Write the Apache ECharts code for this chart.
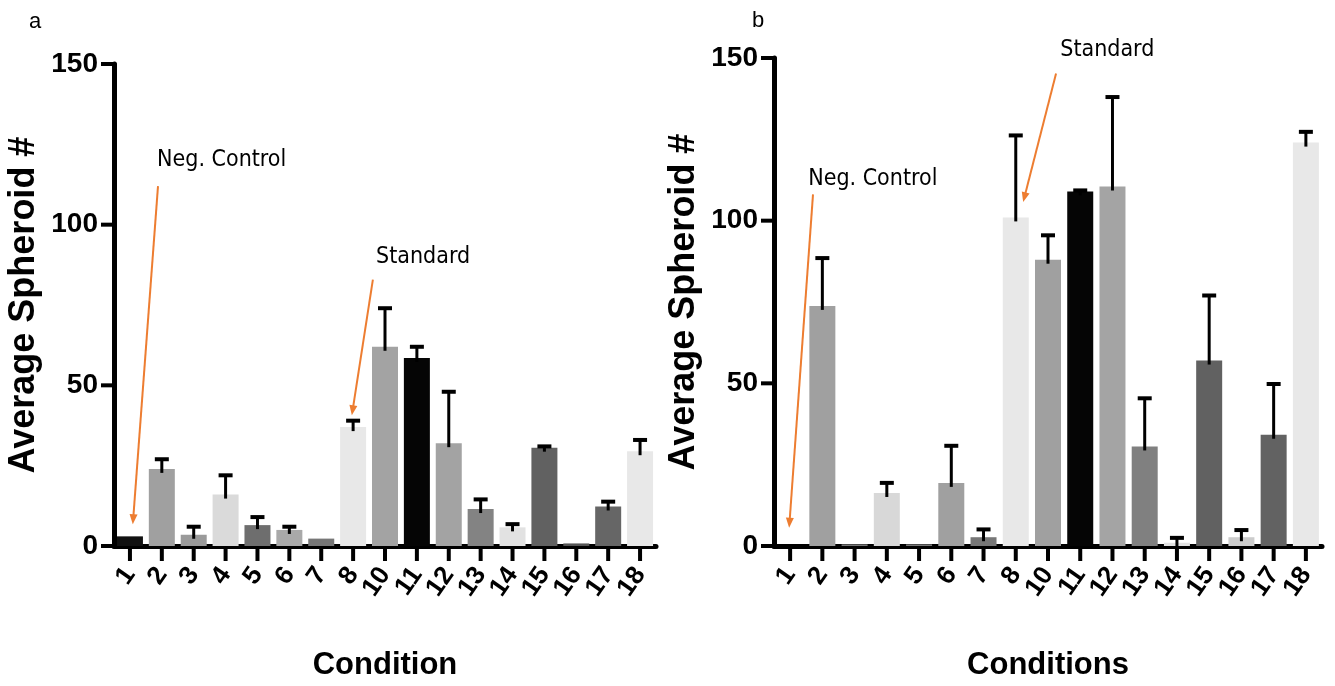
<!DOCTYPE html>
<html><head><meta charset="utf-8">
<script src="https://cdn.jsdelivr.net/npm/echarts@6/dist/echarts.min.js"></script>
<style>html,body{margin:0;padding:0;background:#fff}#c{width:1335px;height:686px}</style>
</head><body><div id="c"></div>
<script>
// ---- data ----
const categories = ['1','2','3','4','5','6','7','8','10','11','12','13','14','15','16','17','18'];
const meanA = [3, 24, 3.5, 16, 6.5, 5, 2.3, 37, 62, 58.5, 32, 11.5, 5.8, 30.6, 0.8, 12.3, 29.5];
const errA  = [0, 3, 2.5, 6, 2.5, 1, 0, 2, 12, 3.5, 16, 3, 1, 0.4, 0, 1.5, 3.5];
const meanB = [0, 73.8, 0.5, 16.3, 0.5, 19.4, 2.7, 101, 88, 109, 110.5, 30.6, 1, 57, 2.7, 34.2, 124];
const errB  = [0, 14.7, 0, 3.1, 0, 11.4, 2.4, 25.2, 7.5, 0.3, 27.5, 14.8, 1.5, 20, 2.2, 15.6, 3.3];
const colorsA = ['#111111','#a0a0a0','#9a9a9a','#dadada','#6e6e6e','#a9a9a9','#777777','#e8e8e8','#a3a3a3','#050505','#a3a3a3','#838383','#e2e2e2','#616161','#555555','#666666','#e8e8e8'];
const colorsB = ['#111111','#a0a0a0','#777777','#d8d8d8','#777777','#a0a0a0','#777777','#e8e8e8','#a0a0a0','#050505','#a4a4a4','#808080','#e2e2e2','#616161','#cccccc','#626262','#e8e8e8'];
const yTicks = [0, 50, 100, 150];
const yMin = 0, yMax = 150, yInterval = 50;
// annotations: [categoryIndex (fractional), value]
const annText   = ['Neg. Control', 'Standard', 'Neg. Control', 'Standard'];
const annGrid   = [0, 0, 1, 1];
const annTextAt = [[0.85, 120], [7.72, 90], [0.56, 112.7], [8.38, 152.5]];
const annFrom   = [[0.88, 112], [7.62, 82.9], [0.71, 108.1], [8.25, 145.2]];
const annTo     = [[0.09, 6.8], [6.96, 40.7], [-0.03, 5.6], [7.23, 105.7]];

const NARROW = "'DejaVu Sans Condensed','Liberation Sans',sans-serif";
const SANS = "'Liberation Sans',Arial,sans-serif";

const chart = echarts.init(document.getElementById('c'));

function xAxisCfg(gi, name){
  return {
    type:'category', gridIndex:gi, data:categories, boundaryGap:true,
    name:name, nameLocation:'middle', nameGap:104,
    nameTextStyle:{fontFamily:SANS, fontWeight:'bold', fontSize:31, color:'#000'},
    axisLine:{show:true, lineStyle:{color:'#000', width:5}},
    axisTick:{show:false},
    axisLabel:{show:true, rotate:55, margin:24, fontFamily:SANS, fontWeight:'bold', fontSize:26, color:'#000', interval:0}
  };
}
function yAxisCfg(gi){
  return {
    type:'value', gridIndex:gi, min:yMin, max:yMax, interval:yInterval,
    name:'Average Spheroid #', nameLocation:'middle', nameGap:72, nameRotate:90,
    nameTextStyle:{fontFamily:SANS, fontWeight:'bold', fontSize:36, color:'#000'},
    axisLine:{show:true, lineStyle:{color:'#000', width:5}},
    axisTick:{show:false},
    axisLabel:{show:true, margin:16, fontFamily:SANS, fontWeight:'bold', fontSize:28, color:'#000'},
    splitLine:{show:false}
  };
}
function barData(means, colors){
  return means.map((v,i)=>({value:v, itemStyle:{color:colors[i]}}));
}
function errData(means, errs){
  return means.map((v,i)=>[i, v, errs[i]]);
}
function renderErr(params, api){
  const i = api.value(0), m = api.value(1), e = api.value(2);
  if (!(e > 0)) return null;
  const p0 = api.coord([i, m]);
  const p1 = api.coord([i, m + e]);
  return {type:'group', children:[
    {type:'line', shape:{x1:p0[0], y1:p0[1] + 4, x2:p1[0], y2:p1[1]}, style:{stroke:'#000', lineWidth:3}},
    {type:'line', shape:{x1:p1[0] - 7, y1:p1[1], x2:p1[0] + 7, y2:p1[1]}, style:{stroke:'#000', lineWidth:4}}
  ]};
}
// outward tick marks, drawn through the axes' own scales
function renderXTick(params, api){
  const p = api.coord([api.value(0), 0]);
  return {type:'line', shape:{x1:p[0], y1:p[1], x2:p[0], y2:p[1] + 15}, style:{stroke:'#000', lineWidth:4}};
}
function renderYTick(params, api){
  const p = api.coord([0, api.value(0)]);
  const x0 = params.coordSys.x;
  return {type:'line', shape:{x1:x0 - 13, y1:p[1], x2:x0, y2:p[1]}, style:{stroke:'#000', lineWidth:4}};
}

chart.setOption({
  animation:false,
  backgroundColor:'#fff',
  title:[
    {text:'a', left:24, top:6, textStyle:{fontFamily:SANS, fontWeight:'normal', fontSize:22, color:'#000'}},
    {text:'b', left:747, top:5, textStyle:{fontFamily:SANS, fontWeight:'normal', fontSize:22, color:'#000'}}
  ],
  grid:[
    {left:114, width:542, top:64, bottom:139},
    {left:774, width:548, top:58, bottom:138}
  ],
  xAxis:[xAxisCfg(0,'Condition'), xAxisCfg(1,'Conditions')],
  yAxis:[yAxisCfg(0), yAxisCfg(1)],
  series:[
    {type:'bar', xAxisIndex:0, yAxisIndex:0, barWidth:26, data:barData(meanA, colorsA), z:2},
    {type:'custom', xAxisIndex:0, yAxisIndex:0, renderItem:renderErr, data:errData(meanA, errA), z:3},
    {type:'bar', xAxisIndex:1, yAxisIndex:1, barWidth:26, data:barData(meanB, colorsB), z:2},
    {type:'custom', xAxisIndex:1, yAxisIndex:1, renderItem:renderErr, data:errData(meanB, errB), z:3},
    {type:'custom', xAxisIndex:0, yAxisIndex:0, renderItem:renderXTick, clip:false, data:categories.map((c,i)=>[i]), encode:{x:0}, z:6, silent:true},
    {type:'custom', xAxisIndex:1, yAxisIndex:1, renderItem:renderXTick, clip:false, data:categories.map((c,i)=>[i]), encode:{x:0}, z:6, silent:true},
    {type:'custom', xAxisIndex:0, yAxisIndex:0, renderItem:renderYTick, clip:false, data:yTicks.map(v=>[v]), encode:{y:0}, z:6, silent:true},
    {type:'custom', xAxisIndex:1, yAxisIndex:1, renderItem:renderYTick, clip:false, data:yTicks.map(v=>[v]), encode:{y:0}, z:6, silent:true}
  ]
});

function toPx(gi, pt){
  const a = chart.convertToPixel({gridIndex:gi}, [0, pt[1]]);
  const b = chart.convertToPixel({gridIndex:gi}, [1, pt[1]]);
  return [a[0] + pt[0] * (b[0] - a[0]), a[1]];
}
const graphics = [];
for (let k = 0; k < annText.length; k++){
  const gi = annGrid[k];
  const t = toPx(gi, annTextAt[k]);
  const s = toPx(gi, annFrom[k]);
  const e = toPx(gi, annTo[k]);
  graphics.push({type:'text', x:t[0], y:t[1], style:{text:annText[k], fill:'#000', font:"normal 23px " + NARROW, textVerticalAlign:'middle', textAlign:'left'}, z:10});
  const dx = e[0] - s[0], dy = e[1] - s[1];
  const len = Math.sqrt(dx*dx + dy*dy);
  const ux = dx/len, uy = dy/len, nx = -uy, ny = ux;
  const L = 10, W = 4;
  graphics.push({type:'line', shape:{x1:s[0], y1:s[1], x2:e[0] - ux*L*0.6, y2:e[1] - uy*L*0.6}, style:{stroke:'#ED7D31', lineWidth:2}, z:10});
  graphics.push({type:'polygon', shape:{points:[[e[0], e[1]], [e[0]-ux*L+nx*W, e[1]-uy*L+ny*W], [e[0]-ux*L-nx*W, e[1]-uy*L-ny*W]]}, style:{fill:'#ED7D31'}, z:10});
}
chart.setOption({graphic:graphics});
</script>
</body></html>
